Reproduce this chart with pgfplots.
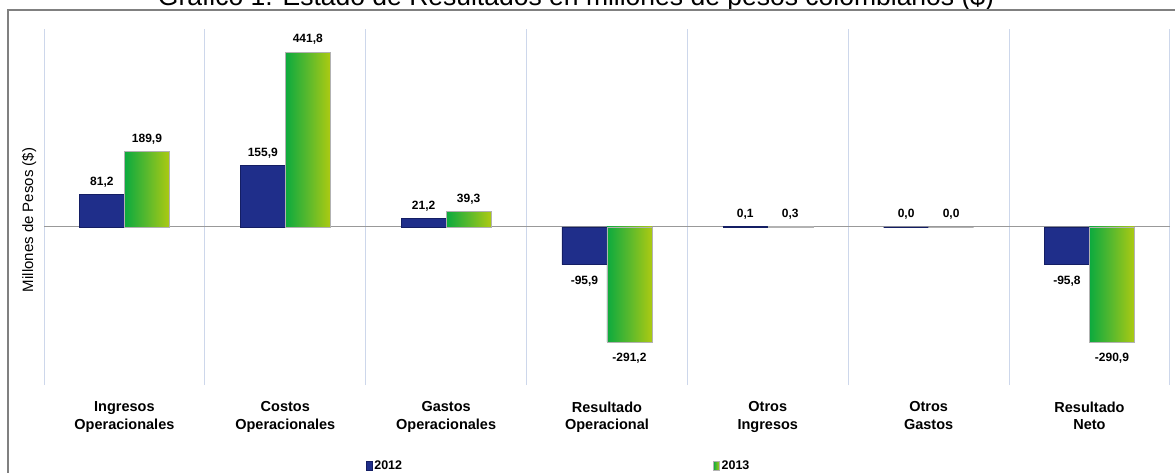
\documentclass[border=0pt]{standalone}
\usepackage{pgfplots}
\pgfplotsset{compat=1.18}
\usepackage{fontspec}
\setmainfont{Liberation Sans}
\definecolor{blueA}{RGB}{31,46,138}
\definecolor{blueB}{RGB}{20,30,100}
\definecolor{greenA}{RGB}{12,170,62}
\definecolor{greenM}{RGB}{90,185,45}
\definecolor{greenB}{RGB}{172,202,18}
\definecolor{gridc}{RGB}{205,215,235}
\definecolor{framec}{RGB}{128,128,128}
\begin{document}
\begin{tikzpicture}[x=1pt,y=1pt]
\useasboundingbox (0,0) rectangle (1175,472);
\clip (0,0) rectangle (1175,472);
\node[anchor=base, font=\fontsize{26.5}{30}\selectfont] at (576,466) {Gráfico 1. Estado de Resultados en millones de pesos colombianos (\$)};
\draw[framec, line width=1.5pt] (8,-5) -- (8,462) -- (1180,462);
\begin{axis}[
 at={(44pt,87pt)}, anchor=south west, scale only axis, width=1126pt, height=356pt,
 ymin=-400, ymax=500, xmin=-0.5, xmax=6.5,
 ybar=0pt, bar width=45pt,
 axis line style={draw=none},
 ytick=\empty,
 xtick={0,...,6},
 xticklabels={{Ingresos\\Operacionales},{Costos\\Operacionales},{Gastos\\Operacionales},{Resultado\\Operacional},{Otros\\Ingresos},{Otros\\Gastos},{Resultado\\Neto}},
 xticklabel style={align=center, font=\bfseries\fontsize{14.5}{17.5}\selectfont, yshift=-13pt},
 major tick length=0pt, minor tick length=0pt,
 minor xtick={-0.5,0.5,...,6.5},
 xminorgrids=true, minor grid style={gridc, line width=1pt},
 extra y ticks={0}, extra y tick labels={},
 extra y tick style={ymajorgrids=true, major grid style={gray!80, line width=0.8pt}},
 ylabel={Millones de Pesos (\$)},
 ylabel style={at={(axis description cs:-0.0133,0.4635)}, anchor=center, font=\fontsize{15}{17}\selectfont},
 nodes near coords,
 nodes near coords align=vertical,
 visualization depends on={y \as \rawy},
 every node near coord/.append style={text=black, font=\bfseries\fontsize{12}{14}\selectfont, inner ysep=7pt, yshift={ifthenelse(\rawy<0,-4,0)}},
 /pgf/number format/fixed, /pgf/number format/fixed zerofill, /pgf/number format/precision=1, /pgf/number format/use comma, /pgf/number format/assume math mode=true,
 legend style={draw=none, fill=none, at={(axis description cs:0.283,-0.228)}, anchor=west, legend columns=2, font=\bfseries\fontsize{12.5}{14}\selectfont, /tikz/every even column/.append style={column sep=309pt}},
 legend cell align=left,
 legend image code/.code={\draw[#1] (0pt,-4pt) rectangle (6pt,5pt);},
 gbar/.style={bar shift=22.5pt, left color=greenA, right color=greenB, middle color=greenM, draw=black!30, line width=0.5pt},
]
\addplot[bar shift=-22.5pt, fill=blueA, draw=blueB, line width=0.5pt] coordinates {(0,81.2) (1,155.9) (2,21.2) (3,-95.9) (4,0.1) (5,0.0) (6,-95.8)};
\addlegendentry{2012}
% 2013 series, one bar per plot so that each bar gets its own gradient
\addplot[gbar] coordinates {(0,189.9)};
\addlegendentry{2013}
\addplot[gbar, forget plot] coordinates {(1,441.8)};
\addplot[gbar, forget plot] coordinates {(2,39.3)};
\addplot[gbar, forget plot] coordinates {(3,-291.2)};
\addplot[gbar, forget plot] coordinates {(4,0.3)};
\addplot[gbar, forget plot] coordinates {(5,0.0)};
\addplot[gbar, forget plot] coordinates {(6,-290.9)};
\end{axis}
\end{tikzpicture}
\end{document}
